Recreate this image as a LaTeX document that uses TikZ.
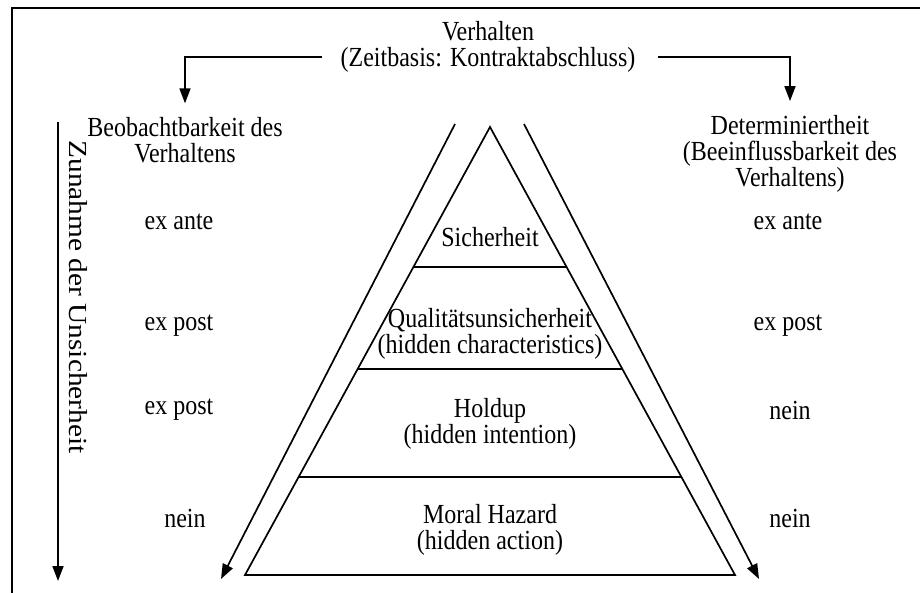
\documentclass[tikz,border=0pt]{standalone}
\usepackage{fontspec}
\setmainfont{Liberation Serif}[FakeStretch=0.87]
\newfontfamily\axisfont{Liberation Serif}[FakeStretch=1.13]
\usetikzlibrary{arrows.meta,calc}
\begin{document}
\begin{tikzpicture}[x=0.5pt,y=-0.5pt,
  lbl/.style={font=\fontsize{13.8}{13}\selectfont, align=center, inner sep=0pt},
  thin line/.style={line width=0.85pt},
  arr/.style={line width=0.85pt, -{Triangle[length=7.5pt,width=5.5pt]}},
]
\useasboundingbox (0,0) rectangle (920,593);
% frame edges
\draw[line width=1.2pt] (12,593) -- (12,8) -- (920,8);

% headings
\node[lbl] (verh) at (488,46.5) {Verhalten\\(Zeitbasis: Kontraktabschluss)};
\node[lbl] (beob) at (185,140.5) {Beobachtbarkeit des\\Verhaltens};
\node[lbl] (det) at (790,154) {Determiniertheit\\(Beeinflussbarkeit des\\Verhaltens)};

\coordinate (vl) at (322,57);
\coordinate (vr) at (658,57);
\draw[arr, shorten >=7pt] (vl) -| (beob.north);
\draw[arr, shorten >=7pt] (vr) -| (det.north);

% uncertainty axis
\coordinate (ut) at (58,122);
\coordinate (ub) at (58,581);
\draw[arr] (ut) -- (ub);
\node[lbl, font=\axisfont\fontsize{13}{14}\selectfont, rotate=-90] (unc) at (78,297) {Zunahme der Unsicherheit};

% pyramid
\coordinate (apex) at (490,127);
\coordinate (bl) at (245,575);
\coordinate (br) at (735,575);
\draw[thin line] (apex) -- (bl) -- (br) -- cycle;
\draw[thin line] ($(apex)!0.3125!(bl)$) -- ($(apex)!0.3125!(br)$);
\draw[thin line] ($(apex)!0.5402!(bl)$) -- ($(apex)!0.5402!(br)$);
\draw[thin line] ($(apex)!0.7813!(bl)$) -- ($(apex)!0.7813!(br)$);

\node[lbl] (s1) at (490,237) {Sicherheit};
\node[lbl] (s2) at (490,334) {Qualitätsunsicherheit\\(hidden characteristics)};
\node[lbl] (s3) at (490,423.5) {Holdup\\(hidden intention)};
\node[lbl] (s4) at (490,530) {Moral Hazard\\(hidden action)};

% side arrows along the pyramid
\coordinate (lt) at (455,124);
\coordinate (lb) at (221,579);
\coordinate (rt) at (524,124);
\coordinate (rb) at (759,579);
\draw[arr] (lt) -- (lb);
\draw[arr] (rt) -- (rb);

% left column
\node[lbl] (l1) at (179,222) {ex ante};
\node[lbl] (l2) at (179,326) {ex post};
\node[lbl] (l3) at (179,410) {ex post};
\node[lbl] (l4) at (185,518) {nein};

% right column
\node[lbl] (r1) at (788,222) {ex ante};
\node[lbl] (r2) at (788,326) {ex post};
\node[lbl] (r3) at (790,410) {nein};
\node[lbl] (r4) at (790,518) {nein};
\end{tikzpicture}
\end{document}
